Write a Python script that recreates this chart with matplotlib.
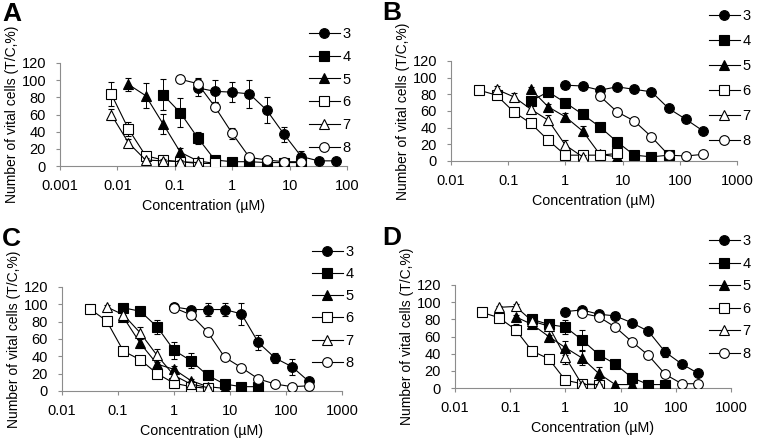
import numpy as np
import matplotlib
matplotlib.use("Agg")
import matplotlib.pyplot as plt
from matplotlib.ticker import FixedLocator, FuncFormatter

plt.rcParams["font.family"] = ["Liberation Sans", "DejaVu Sans"]

n = np.nan
conc = [0.0078, 0.0156, 0.031, 0.0625, 0.125, 0.25, 0.5, 1, 2, 4, 8, 16, 32, 64, 128, 256]
labels = ["3", "4", "5", "6", "7", "8"]

# panel A  (values, error) per compound, nan = not measured
a_y = [
    [n, n, n, n, n, 91, 87, 86, 84, 65, 37, 11, 6, 6, n, n],
    [n, n, n, 83, 62, 33, 7, 5, 5, 4, 4, 4, n, n, n, n],
    [n, 95, 82, 49, 16, 6, 3, n, n, n, n, n, n, n, n, n],
    [84, 43, 12, 7, 5, 3, 3, n, n, n, n, n, n, n, n, n],
    [60, 27, 7, 6, 5, 4, n, n, n, n, n, n, n, n, n, n],
    [n, n, n, n, 101, 96, 69, 38, 10, 7, 5, 5, n, n, n, n],
]
a_e = [
    [n, n, n, n, n, 10, 13, 12, 16, 15, 9, 7, 1, 1, n, n],
    [n, n, n, 18, 17, 7, 2, 2, 2, 1, 1, 1, n, n, n, n],
    [n, 8, 15, 12, 5, 2, 1, n, n, n, n, n, n, n, n, n],
    [14, 8, 4, 2, 2, 1, 1, n, n, n, n, n, n, n, n, n],
    [6, 4, 2, 2, 2, 1, n, n, n, n, n, n, n, n, n, n],
    [n, n, n, n, 2, 6, 5, 6, 2, 2, 1, 1, n, n, n, n],
]

# panel B
b_y = [
    [n, n, n, n, n, n, n, 91, 90, 85, 89, 86, 83, 63, 50, 36],
    [n, n, n, n, n, 72, 83, 70, 56, 41, 23, 7, 5, 7, n, n],
    [n, n, n, n, n, 86, 65, 53, 36, 8, 5, n, n, n, n, n],
    [n, n, 85, 79, 59, 45, 25, 7, 7, 7, 9, n, n, n, n, n],
    [n, n, n, 86, 77, 62, 49, 19, 5, n, n, n, n, n, n, n],
    [n, n, n, n, n, n, n, n, n, 78, 59, 48, 29, 7, 6, 8],
]
b_e = [
    [n, n, n, n, n, n, n, 3, 4, 3, 2, 2, 2, 2, 2, 3],
    [n, n, n, n, n, 3, 2, 2, 2, 2, 2, 2, 1, 1, n, n],
    [n, n, n, n, n, 3, 3, 4, 6, 2, 1, n, n, n, n, n],
    [n, n, 3, 3, 3, 3, 3, 2, 2, 2, 2, n, n, n, n, n],
    [n, n, n, 4, 4, 5, 6, 6, 2, n, n, n, n, n, n, n],
    [n, n, n, n, n, n, n, n, n, 2, 2, 2, 2, 2, 2, 3],
]

# panel C
c_y = [
    [n, n, n, n, n, n, n, 97, 94, 94, 94, 89, 56, 38, 28, 11],
    [n, n, n, n, 96, 92, 74, 47, 35, 18, 8, 5, 5, n, n, n],
    [n, n, n, n, 85, 55, 31, 25, 12, 5, 3, n, n, n, n, n],
    [n, n, 95, 81, 46, 36, 20, 9, 5, 3, n, n, n, n, n, n],
    [n, n, n, 97, 88, 67, 41, 18, 8, 4, n, n, n, n, n, n],
    [n, n, n, n, n, n, n, 96, 88, 68, 39, 27, 14, 8, 5, 6],
]
c_e = [
    [n, n, n, n, n, n, n, 2, 3, 7, 8, 13, 9, 6, 9, 3],
    [n, n, n, n, 3, 3, 8, 10, 9, 3, 2, 1, 1, n, n, n],
    [n, n, n, n, 3, 5, 5, 4, 2, 1, 1, n, n, n, n, n],
    [n, n, 2, 3, 3, 3, 3, 2, 1, 1, n, n, n, n, n, n],
    [n, n, n, 2, 3, 7, 7, 5, 2, 1, n, n, n, n, n, n],
    [n, n, n, n, n, n, n, 2, 3, 3, 2, 2, 2, 1, 1, 1],
]

# panel D
d_y = [
    [n, n, n, n, n, n, n, 89, 91, 86, 84, 76, 66, 42, 28, 17],
    [n, n, n, n, n, 80, 74, 71, 56, 39, 28, 12, 4, 4, n, n],
    [n, n, n, n, 83, 74, 60, 47, 35, 17, 4, 4, n, n, n, n],
    [n, n, 88, 82, 68, 43, 34, 9, 5, 4, n, n, n, n, n, n],
    [n, n, n, 94, 95, 78, 72, 36, 4, 4, n, n, n, n, n, n],
    [n, n, n, n, n, n, n, n, 87, 83, 71, 54, 38, 16, 5, 5],
]
d_e = [
    [n, n, n, n, n, n, n, 4, 3, 3, 4, 2, 2, 6, 2, 2],
    [n, n, n, n, n, 3, 3, 8, 12, 5, 2, 2, 1, 1, n, n],
    [n, n, n, n, 2, 3, 2, 8, 8, 7, 1, 1, n, n, n, n],
    [n, n, 2, 2, 6, 3, 2, 2, 1, 1, n, n, n, n, n, n],
    [n, n, n, 2, 3, 3, 3, 8, 2, 1, n, n, n, n, n, n],
    [n, n, n, n, n, n, n, n, 2, 3, 3, 3, 3, 3, 1, 1],
]

markers = ["o", "s", "^", "s", "^", "o"]
filled = [True, True, True, False, False, False]

W, H = 757, 443
fig = plt.figure(figsize=(W / 100, H / 100), dpi=100)


def box(l, t, r, b):
    return [l / W, 1 - b / H, (r - l) / W, (b - t) / H]


panels = [
    ("A", a_y, a_e, box(60, 63, 347, 166), (0.001, 100), (2, 2), (309, 27), 0.6),
    ("B", b_y, b_e, box(451, 61, 737, 161), (0.01, 1000), (382, 1), (709, 9), 0.76),
    ("C", c_y, c_e, box(62, 287, 342, 391), (0.01, 1000), (2, 227), (312, 245), 0.56),
    ("D", d_y, d_e, box(455, 285, 731, 388), (0.01, 1000), (382, 226), (709, 234), 0.59),
]

axis_grey = "#8c8c8c"

for letter, ys, es, pos, xlim, lpos, legpos, lspace in panels:
    ax = fig.add_axes(pos)
    for i in range(6):
        y = np.array(ys[i], dtype=float)
        e = np.array(es[i], dtype=float)
        face = "black" if filled[i] else "white"
        ax.errorbar(conc, y, yerr=e, color="black", lw=0.8, elinewidth=0.7,
                    capsize=2.5, capthick=0.7, marker=markers[i], ms=7,
                    mfc=face, mec="black", mew=0.8, label=labels[i], zorder=3 + i * 0.1)
    ax.set_xscale("log")
    ax.set_xlim(*xlim)
    ax.set_ylim(0, 120)
    decades = [xlim[0] * 10 ** k for k in range(6)]
    ax.xaxis.set_major_locator(FixedLocator(decades))
    ax.xaxis.set_minor_locator(FixedLocator([]))
    ax.xaxis.set_major_formatter(FuncFormatter(lambda v, p: "%g" % v))
    ax.set_yticks([0, 20, 40, 60, 80, 100, 120])
    for side in ["top", "right"]:
        ax.spines[side].set_visible(False)
    for side in ["left", "bottom"]:
        ax.spines[side].set_color(axis_grey)
        ax.spines[side].set_linewidth(0.8)
    ax.tick_params(direction="out", length=3, width=0.8, color=axis_grey,
                   labelsize=10.5)
    ax.tick_params(axis="x", pad=6.5)
    ax.tick_params(axis="y", pad=7)
    ax.set_xlabel("Concentration (\u00b5M)", fontsize=10.3, labelpad=4)
    ax.set_ylabel("Number of vital cells (T/C,%)", fontsize=10, labelpad=2)
    ax.patch.set_alpha(0)

    handles, labs = ax.get_legend_handles_labels()
    handles = [h[0] for h in handles]
    ax.legend(handles, labs, loc="upper left", frameon=False,
              bbox_to_anchor=(legpos[0] / W, 1 - legpos[1] / H),
              bbox_transform=fig.transFigure, borderpad=0, borderaxespad=0,
              handlelength=2.1, handletextpad=0.2, labelspacing=lspace,
              fontsize=10.5)

    fig.text(lpos[0] / W, 1 - lpos[1] / H, letter, fontsize=19, fontweight="bold",
             va="top", ha="left")

fig.savefig("out.png", dpi=100)
